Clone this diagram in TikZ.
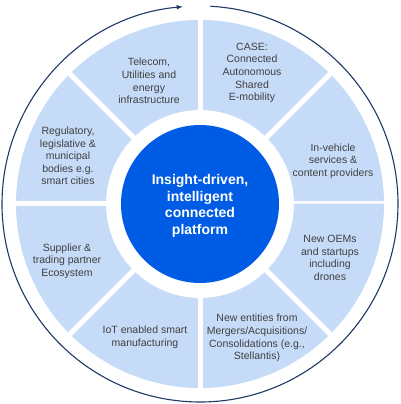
\documentclass[tikz,border=0pt]{standalone}
\usepackage{fontspec}
\setmainfont{Liberation Sans}

\definecolor{ringblue}{RGB}{31, 56, 100}
\definecolor{sectorblue}{RGB}{198, 219, 248}
\definecolor{hubblue}{RGB}{0, 92, 228}
\definecolor{textgray}{RGB}{64, 64, 64}

\begin{document}
\begin{tikzpicture}[> = latex, x = 1pt, y = 1pt,
	sector/.style = {fill = sectorblue},
	item/.style = {align = center, text = textgray, font = \fontsize{10.5}{12.6}\selectfont},
	hub/.style = {circle, fill = hubblue, text = white, align = center, inner sep = 0, minimum size = 158, font = \fontsize{14}{16.7}\selectfont\bfseries}]

	% Definitions
	
	\def\R{184};
	\def\r{94};
	\def\S{198};
	
	\useasboundingbox (-200, -200) rectangle (200, 204);
	
	% The sectors
	
	\foreach \a in {0, 45, ..., 315}
	{
		\fill [sector] (\a : \r) arc (\a : \a + 45 : \r) -- (\a + 45 : \R) arc (\a + 45 : \a : \R) -- cycle;
		\draw [white, line width = 5] (0, 0) -- (\a : \R + 2);
	}
	
	% Hub
	
	\node [hub] (hub) at (0, 0) {};
	\node [hub, fill = none, minimum size = 0] (hubtext) at (0, -2) {Insight-driven,\\ intelligent\\ connected\\ platform};
	
	% Outer ring w/arrow
	
	\draw [->, ringblue, line width = 1.1] (87 : \S) arc (87 : -265 : \S);
	
	% Sector texts
	
	\node [item] (telecom) at (-51, 123) {Telecom,\\ Utilities and\\ energy\\ infrastructure};
	\node [item] (case) at (52, 131) {CASE:\\ Connected\\ Autonomous\\ Shared\\ E-mobility};
	\node [item] (invehicle) at (133, 43) {In-vehicle\\ services \&\\ content providers};
	\node [item] (oems) at (130, -54) {New OEMs\\ and startups\\ including\\ drones};
	\node [item] (entities) at (57, -134) {New entities from\\ Mergers/Acquisitions/\\ Consolidations (e.g.,\\ Stellantis)};
	\node [item] (iot) at (-55, -133) {IoT enabled smart\\ manufacturing};
	\node [item] (supplier) at (-133, -57) {Supplier \&\\ trading partner\\ Ecosystem};
	\node [item] (regulatory) at (-132, 48) {Regulatory,\\ legislative \&\\ municipal\\ bodies e.g.\\ smart cities};

\end{tikzpicture}
\end{document}
